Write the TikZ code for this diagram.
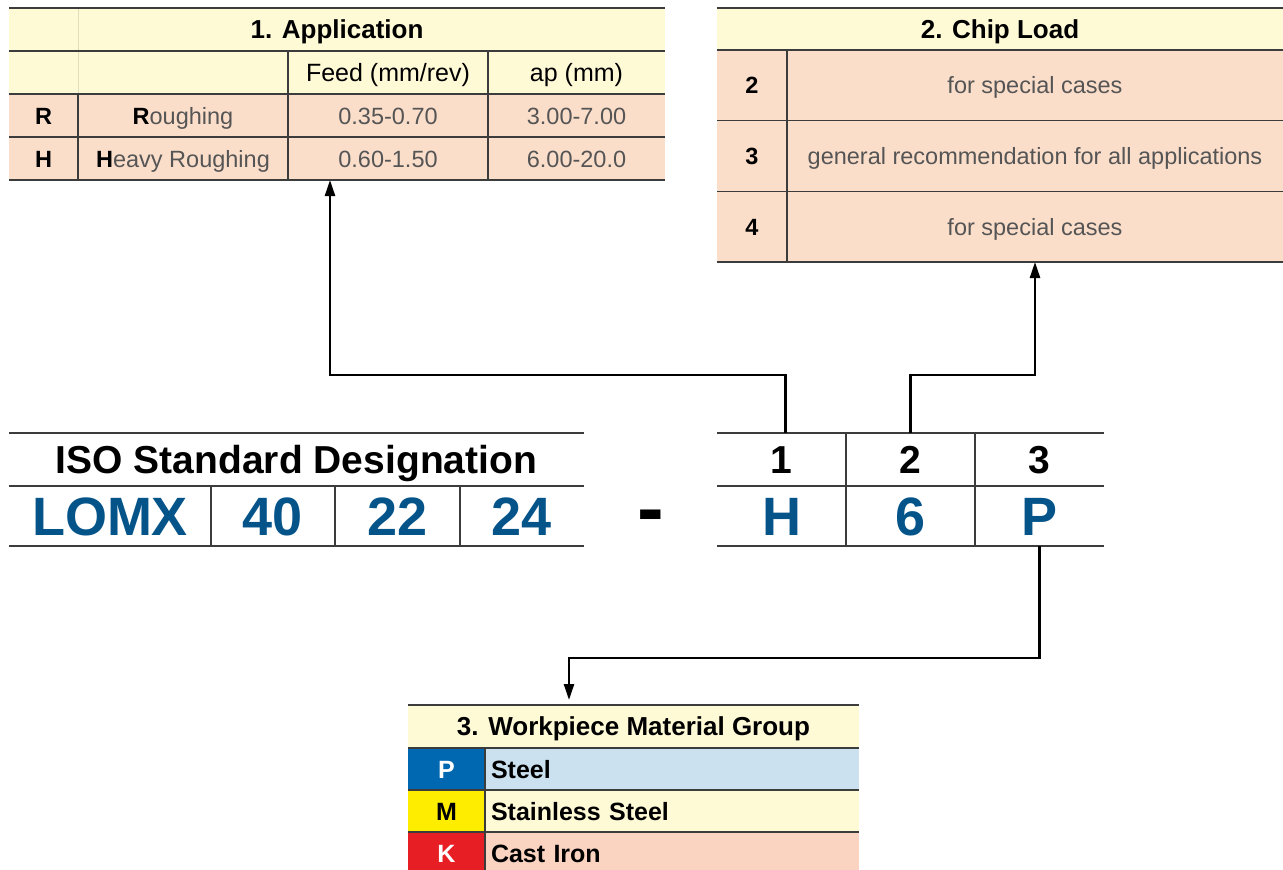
\documentclass[tikz,border=0pt]{standalone}
\usepackage{fontspec}
\setmainfont{Liberation Sans}
\usetikzlibrary{positioning,arrows.meta}
\definecolor{HeadYellow}{RGB}{255,250,214}
\definecolor{RowSalmon}{RGB}{251,222,202}
\definecolor{RuleGray}{RGB}{60,60,60}
\definecolor{BodyGray}{RGB}{85,85,85}
\definecolor{CodeBlue}{RGB}{4,84,138}
\definecolor{PBlue}{RGB}{0,103,177}
\definecolor{PLight}{RGB}{203,225,239}
\definecolor{MYellow}{RGB}{255,237,0}
\definecolor{KRed}{RGB}{232,30,37}
\definecolor{KLight}{RGB}{251,211,193}
\tikzset{
  cell/.style={inner sep=0pt,outer sep=0pt,anchor=north west,align=center,
    minimum height=43pt,text depth=0pt},
  headcell/.style={cell,fill=HeadYellow,text height=18.7pt,
    font=\fontsize{26pt}{30pt}\selectfont\bfseries},
  colhead/.style={cell,fill=HeadYellow,text height=18pt,
    font=\fontsize{25pt}{29pt}\selectfont},
  keycell/.style={cell,fill=RowSalmon,text height=17pt,
    font=\fontsize{23.5pt}{27pt}\selectfont\bfseries},
  bodycell/.style={cell,fill=RowSalmon,text=BodyGray,text height=17pt,
    font=\fontsize{23.5pt}{27pt}\selectfont},
  isohead/.style={cell,minimum height=53pt,text height=28pt,
    font=\fontsize{39pt}{43pt}\selectfont\bfseries},
  codecell/.style={cell,minimum height=60pt,text=CodeBlue,text height=39pt,
    font=\fontsize{54pt}{58pt}\selectfont\bfseries},
  grpkey/.style={cell,minimum width=77pt,minimum height=42pt,text height=18pt,
    font=\fontsize{25pt}{29pt}\selectfont\bfseries},
  grptxt/.style={cell,minimum height=42pt,text width=362pt,inner xsep=6pt,align=left,
    text height=18pt,font=\fontsize{25pt}{29pt}\selectfont\bfseries},
  rule/.style={draw=RuleGray,line width=1.6pt},
  faintrule/.style={draw=HeadYellow!88!black,line width=1pt},
  flow/.style={-{Triangle[length=16pt,width=10pt]},line width=2.4pt,draw=black}
}
\begin{document}
\begin{tikzpicture}[x=1pt,y=-1pt]
  \useasboundingbox (0,0) rectangle (1283,870);
  % 1. Application
  \node[headcell,minimum width=656pt] (apptitle) at (9,8) {1. Application};
  \node[colhead,minimum width=279pt,below right=0pt and 0pt of apptitle.south west] (apphead) {};
  \node[colhead,minimum width=200pt,right=0pt of apphead] (feedhead) {Feed (mm/rev)};
  \node[colhead,minimum width=177pt,right=0pt of feedhead] (aphead) {ap (mm)};
  \node[keycell,minimum width=69pt,below right=0pt and 0pt of apphead.south west] (rkey) {R};
  \node[bodycell,minimum width=210pt,right=0pt of rkey] (rname) {{\color{black}\textbf{R}}oughing};
  \node[bodycell,minimum width=200pt,right=0pt of rname] (rfeed) {0.35-0.70};
  \node[bodycell,minimum width=177pt,right=0pt of rfeed] (rap) {3.00-7.00};
  \node[keycell,minimum width=69pt,below=0pt of rkey] (hkey) {H};
  \node[bodycell,minimum width=210pt,right=0pt of hkey] (hname) {{\color{black}\textbf{H}}eavy Roughing};
  \node[bodycell,minimum width=200pt,right=0pt of hname] (hfeed) {0.60-1.50};
  \node[bodycell,minimum width=177pt,right=0pt of hfeed] (hap) {6.00-20.0};
  \draw[faintrule] (apptitle.north west -| rkey.east) -- (rkey.north east);
  \draw[rule] (apptitle.north west) -- (apptitle.north east);
  \draw[rule] (apptitle.south west) -- (apptitle.south east);
  \draw[rule] (apphead.south west) -- (aphead.south east);
  \draw[rule] (rkey.south west) -- (rap.south east);
  \draw[rule] (hkey.south west) -- (hap.south east);
  \draw[rule] (rkey.north east) -- (hkey.south east);
  \draw[rule] (feedhead.north west) -- (hfeed.south west);
  \draw[rule] (aphead.north west) -- (hap.south west);
  % 2. Chip Load
  \node[headcell,minimum width=566pt,minimum height=42pt] (cltitle) at (717,8) {2. Chip Load};
  \node[keycell,minimum width=70pt,minimum height=70.67pt,below right=0pt and 0pt of cltitle.south west] (cltwo) {2};
  \node[bodycell,minimum width=496pt,minimum height=70.67pt,right=0pt of cltwo] (cltwotxt) {for special cases};
  \node[keycell,minimum width=70pt,minimum height=70.67pt,below=0pt of cltwo] (clthree) {3};
  \node[bodycell,minimum width=496pt,minimum height=70.67pt,right=0pt of clthree] (clthreetxt) {general recommendation for all applications};
  \node[keycell,minimum width=70pt,minimum height=70.67pt,below=0pt of clthree] (clfour) {4};
  \node[bodycell,minimum width=496pt,minimum height=70.67pt,right=0pt of clfour] (clfourtxt) {for special cases};
  \draw[rule] (cltitle.north west) -- (cltitle.north east);
  \draw[rule] (cltitle.south west) -- (cltitle.south east);
  \draw[rule] (cltwo.south west) -- (cltwotxt.south east);
  \draw[rule] (clthree.south west) -- (clthreetxt.south east);
  \draw[rule] (clfour.south west) -- (clfourtxt.south east);
  \draw[rule] (cltwo.north east) -- (clfour.south east);
  % ISO designation
  \node[isohead,minimum width=575pt] (isotitle) at (9,433) {ISO Standard Designation};
  \node[codecell,minimum width=202pt,below right=0pt and 0pt of isotitle.south west] (dlomx) {LOMX};
  \node[codecell,minimum width=124pt,right=0pt of dlomx] (dforty) {40};
  \node[codecell,minimum width=125pt,right=0pt of dforty] (dtwotwo) {22};
  \node[codecell,minimum width=124pt,right=0pt of dtwotwo] (dtwofour) {24};
  \node[codecell,text=black,minimum width=133pt,font=\fontsize{80pt}{84pt}\selectfont\bfseries,
    right=0pt of dtwofour] (dash) {-};
  \node[codecell,minimum width=129pt,right=0pt of dash] (dH) {H};
  \node[codecell,minimum width=129pt,right=0pt of dH] (dsix) {6};
  \node[codecell,minimum width=129pt,right=0pt of dsix] (dP) {P};
  \node[isohead,minimum width=129pt,above=0pt of dH] (numone) {1};
  \node[isohead,minimum width=129pt,above=0pt of dsix] (numtwo) {2};
  \node[isohead,minimum width=129pt,above=0pt of dP] (numthree) {3};
  \draw[rule] (isotitle.north west) -- (isotitle.north east);
  \draw[rule] (isotitle.south west) -- (isotitle.south east);
  \draw[rule] (dlomx.south west) -- (dtwofour.south east);
  \draw[rule] (dlomx.north east) -- (dlomx.south east);
  \draw[rule] (dforty.north east) -- (dforty.south east);
  \draw[rule] (dtwotwo.north east) -- (dtwotwo.south east);
  \draw[rule] (numone.north west) -- (numthree.north east);
  \draw[rule] (dH.north west) -- (dP.north east);
  \draw[rule] (dH.south west) -- (dP.south east);
  \draw[rule] (numone.north east) -- (dH.south east);
  \draw[rule] (numtwo.north east) -- (dsix.south east);
  % 3. Workpiece material group
  \node[headcell,minimum width=451pt] (mattitle) at (408,705) {3. Workpiece Material Group};
  \node[grpkey,fill=PBlue,text=white,below right=0pt and 0pt of mattitle.south west] (pkey) {P};
  \node[grptxt,fill=PLight,right=0pt of pkey] (ptxt) {Steel};
  \node[grpkey,fill=MYellow,below=0pt of pkey] (mkey) {M};
  \node[grptxt,fill=HeadYellow,right=0pt of mkey] (mtxt) {Stainless Steel};
  \node[grpkey,fill=KRed,text=white,below=0pt of mkey] (kkey) {K};
  \node[grptxt,fill=KLight,right=0pt of kkey] (ktxt) {Cast Iron};
  \draw[rule] (mattitle.north west) -- (mattitle.north east);
  \draw[rule] (mattitle.south west) -- (mattitle.south east);
  \draw[rule] (pkey.south west) -- (ptxt.south east);
  \draw[rule] (mkey.south west) -- (mtxt.south east);
  \draw[rule] (pkey.north east) -- (kkey.south east);
  % connectors
  \draw[flow] ([xshift=4pt]numone.north) -- ++(0,-58) -| ([xshift=42pt]hfeed.south west);
  \draw[flow] (numtwo.north) -- ++(0,-58) -| (clfourtxt.south);
  \draw[flow,shorten >=5pt] (dP.south) -- ++(0,112) -| ([xshift=161pt]mattitle.north west);
\end{tikzpicture}
\end{document}
